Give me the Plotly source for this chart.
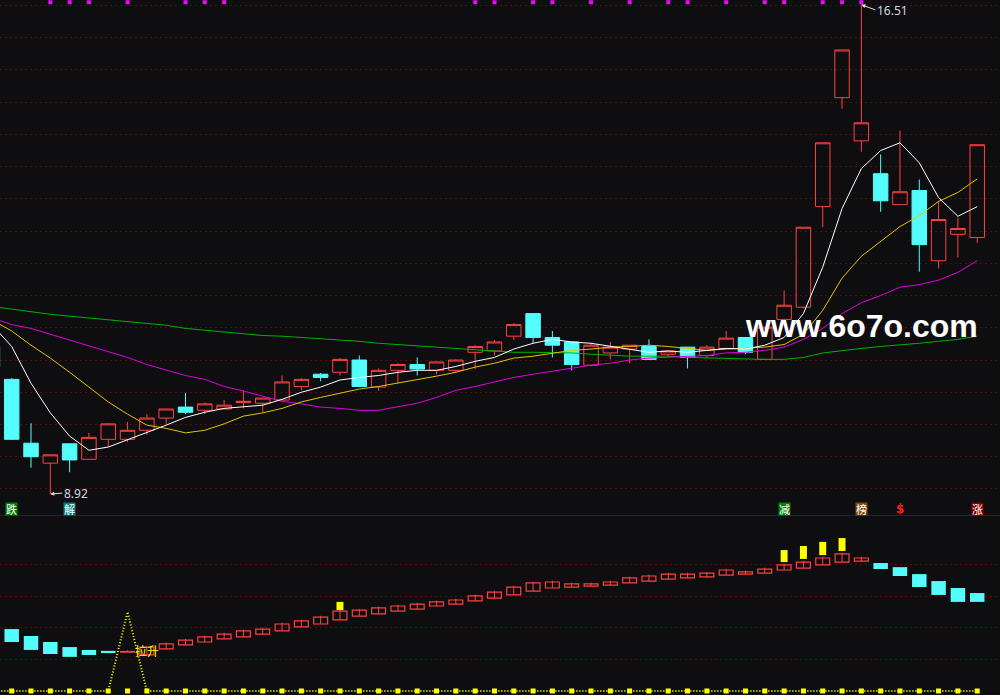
import plotly.graph_objects as go

# daily bars, index 0 is the bar cut off at the left edge
opens = [11.20, 10.70, 9.71, 9.40, 9.70, 9.46, 9.77, 9.77, 9.91, 10.10,
         10.27, 10.22, 10.24, 10.34, 10.33, 10.38, 10.59, 10.78, 10.81, 11.00,
         10.58, 10.84, 10.93, 10.84, 10.84, 11.12, 11.14, 11.37, 11.72, 11.35,
         11.28, 10.92, 11.11, 11.17, 11.21, 11.09, 11.20, 11.07, 11.18, 11.35,
         11.01, 11.63, 11.82, 13.38, 15.07, 14.40, 13.89, 13.41, 13.63, 12.54,
         12.95, 12.90]
highs = [11.25, 10.72, 10.02, 9.54, 9.70, 9.87, 10.02, 10.04, 10.16, 10.24,
         10.49, 10.34, 10.38, 10.53, 10.41, 10.76, 10.72, 10.80, 11.03, 11.07,
         10.87, 10.95, 11.04, 10.97, 11.01, 11.23, 11.31, 11.57, 11.72, 11.45,
         11.28, 11.26, 11.28, 11.23, 11.32, 11.15, 11.20, 11.23, 11.45, 11.35,
         11.51, 12.08, 13.06, 14.37, 15.81, 16.51, 14.19, 14.56, 13.80, 13.47,
         13.21, 14.34]
lows = [10.85, 9.76, 9.33, 8.92, 9.26, 9.46, 9.65, 9.73, 9.84, 10.01,
        10.16, 10.16, 10.24, 10.25, 10.19, 10.38, 10.53, 10.67, 10.76, 10.59,
        10.52, 10.64, 10.76, 10.78, 10.81, 10.86, 11.07, 11.31, 11.26, 11.04,
        10.84, 10.90, 11.01, 10.95, 11.00, 11.06, 10.87, 11.03, 11.17, 11.09,
        11.01, 11.59, 11.80, 13.06, 14.90, 14.23, 13.30, 13.41, 12.37, 12.42,
        12.59, 12.82]
closes = [10.89, 9.77, 9.50, 9.53, 9.45, 9.80, 10.01, 9.91, 10.10, 10.24,
          10.19, 10.32, 10.30, 10.36, 10.41, 10.66, 10.70, 10.73, 11.01, 10.59,
          10.84, 10.93, 10.86, 10.97, 11.00, 11.21, 11.28, 11.55, 11.35, 11.23,
          10.93, 11.23, 11.20, 11.23, 11.01, 11.14, 11.04, 11.20, 11.34, 11.12,
          11.51, 11.85, 13.06, 14.37, 15.81, 14.68, 13.47, 13.61, 12.79, 13.18,
          13.04, 14.34]

ma5 = [11.54, 11.21, 10.64, 10.18, 9.82, 9.60, 9.65, 9.76, 9.88, 9.99,
       10.11, 10.19, 10.25, 10.28, 10.30, 10.39, 10.50, 10.58, 10.69, 10.73,
       10.76, 10.81, 10.84, 10.84, 10.90, 10.98, 11.04, 11.17, 11.26, 11.32,
       11.28, 11.26, 11.21, 11.17, 11.12, 11.14, 11.12, 11.15, 11.18, 11.17,
       11.23, 11.35, 11.72, 12.44, 13.35, 13.97, 14.25, 14.37, 14.06, 13.52,
       13.23, 13.38]
ma10 = [11.62, 11.45, 11.23, 11.03, 10.81, 10.58, 10.35, 10.16, 9.99, 9.94,
        9.87, 9.91, 10.01, 10.13, 10.18, 10.25, 10.35, 10.42, 10.49, 10.55,
        10.59, 10.64, 10.70, 10.75, 10.81, 10.89, 10.95, 11.03, 11.06, 11.11,
        11.15, 11.17, 11.20, 11.21, 11.23, 11.21, 11.18, 11.15, 11.17, 11.18,
        11.20, 11.24, 11.40, 11.77, 12.27, 12.61, 12.84, 13.07, 13.24, 13.46,
        13.60, 13.81]
ma20 = [11.65, 11.55, 11.49, 11.40, 11.32, 11.23, 11.14, 11.04, 10.93, 10.84,
        10.76, 10.70, 10.59, 10.52, 10.44, 10.36, 10.32, 10.27, 10.25, 10.22,
        10.22, 10.27, 10.33, 10.42, 10.53, 10.59, 10.66, 10.73, 10.78, 10.83,
        10.87, 10.92, 10.95, 11.00, 11.03, 11.04, 11.06, 11.07, 11.11, 11.12,
        11.15, 11.20, 11.32, 11.49, 11.72, 11.89, 12.00, 12.13, 12.17, 12.24,
        12.36, 12.54]
ma60 = [11.83, 11.79, 11.74, 11.71, 11.68, 11.65, 11.63, 11.60, 11.57, 11.54,
        11.49, 11.46, 11.43, 11.40, 11.38, 11.37, 11.35, 11.34, 11.31, 11.29,
        11.26, 11.24, 11.21, 11.20, 11.18, 11.15, 11.14, 11.12, 11.12, 11.12,
        11.11, 11.09, 11.07, 11.06, 11.06, 11.06, 11.04, 11.03, 11.03, 11.01,
        11.01, 11.01, 11.04, 11.11, 11.15, 11.18, 11.21, 11.23, 11.26, 11.29,
        11.32, 11.37]

# magenta flags along the top
flag_idx = [3, 4, 5, 7, 10, 11, 12, 25, 26, 28, 29, 31, 33, 35, 36, 38,
            40, 41, 43, 44, 45]
flag_level = 16.55

# signal words under the candles
sig_idx = [1, 4, 41, 45, 47, 51]
sig_text = ["跌", "解", "减", "榜", "$", "涨"]
sig_bg = ["#008000", "#008080", "#008000", "#8b4513", None, "#800000"]

# lower indicator
sub_open = [21.8, 19.6, 17.4, 15.5, 13.9, 13.0, 12.7, 12.3, 11.4, 13.3,
            14.6, 15.5, 16.5, 17.1, 18.0, 19.0, 20.3, 21.2, 22.5, 23.7,
            24.4, 25.3, 25.9, 26.9, 27.5, 28.5, 29.4, 30.4, 31.6, 32.6,
            32.9, 33.2, 33.5, 34.2, 34.8, 35.4, 35.8, 36.1, 36.7, 37.0,
            37.3, 38.3, 38.9, 39.9, 40.8, 41.1, 40.5, 39.2, 37.0, 34.8,
            32.6, 31.0]
sub_close = [18.4, 15.5, 13.0, 11.7, 10.8, 11.4, 12.0, 12.5, 13.9, 14.9,
             16.1, 17.1, 18.0, 19.0, 19.6, 21.2, 22.2, 23.4, 25.3, 25.6,
             26.3, 26.9, 27.5, 28.2, 28.8, 30.1, 31.3, 32.9, 34.2, 34.5,
             33.9, 33.9, 34.5, 35.8, 36.4, 37.0, 37.0, 37.3, 38.3, 37.7,
             38.6, 39.9, 40.8, 42.1, 43.4, 42.1, 38.6, 36.4, 32.9, 30.4,
             28.2, 28.2]
warn_idx = [18, 41, 42, 43, 44]
warn_lo = [25.6, 40.8, 41.8, 43.0, 44.3]
warn_hi = [28.2, 44.6, 45.9, 47.2, 48.4]
pulse = [0, 0, 0, 0, 0, 0, 0, 25.0, 0, 0,
         0, 0, 0, 0, 0, 0, 0, 0, 0, 0,
         0, 0, 0, 0, 0, 0, 0, 0, 0, 0,
         0, 0, 0, 0, 0, 0, 0, 0, 0, 0,
         0, 0, 0, 0, 0, 0, 0, 0, 0, 0,
         0, 0]

RED = "#ff4040"
CYAN = "#54fcfc"
BG = "#0e0e11"
GRID = "#5a0b0b"

idx = list(range(len(closes)))

fig = go.Figure()

fig.add_trace(go.Candlestick(
    x=idx, open=opens, high=highs, low=lows, close=closes,
    increasing=dict(line=dict(color=RED, width=1), fillcolor="rgba(0,0,0,0)"),
    decreasing=dict(line=dict(color=CYAN, width=1), fillcolor=CYAN),
    hoverinfo="skip", xaxis="x", yaxis="y"
))

for vals, col in [(ma60, "#00b000"), (ma20, "#e000e0"), (ma10, "#e6c200"), (ma5, "#ffffff")]:
    fig.add_trace(go.Scatter(x=idx, y=vals, mode="lines",
                             line=dict(color=col, width=1),
                             hoverinfo="skip", xaxis="x", yaxis="y"))

fig.add_trace(go.Scatter(
    x=flag_idx, y=[flag_level] * len(flag_idx), mode="markers",
    marker=dict(symbol="square", size=4, color="#ff00ff"),
    hoverinfo="skip", xaxis="x", yaxis="y"
))

# lower panel boxes
up = [i for i in idx if sub_close[i] >= sub_open[i]]
dn = [i for i in idx if sub_close[i] < sub_open[i]]

fig.add_trace(go.Bar(
    x=dn,
    y=[sub_open[i] - sub_close[i] for i in dn],
    base=[sub_close[i] for i in dn],
    width=0.75, marker=dict(color=CYAN, line=dict(width=0)),
    hoverinfo="skip", xaxis="x2", yaxis="y2"
))
fig.add_trace(go.Bar(
    x=up,
    y=[sub_close[i] - sub_open[i] for i in up],
    base=[sub_open[i] for i in up],
    width=0.72, marker=dict(color="rgba(0,0,0,0)", line=dict(color=RED, width=1.2)),
    hoverinfo="skip", xaxis="x2", yaxis="y2"
))
mx, my = [], []
for i in up:
    mx += [i, i, None]
    my += [sub_open[i], sub_close[i] + 0.4, None]
fig.add_trace(go.Scatter(x=mx, y=my, mode="lines", line=dict(color=RED, width=1),
                         hoverinfo="skip", xaxis="x2", yaxis="y2"))

fig.add_trace(go.Bar(
    x=warn_idx,
    y=[h - l for h, l in zip(warn_hi, warn_lo)],
    base=warn_lo,
    width=0.36, marker=dict(color="#ffff00", line=dict(width=0)),
    hoverinfo="skip", xaxis="x2", yaxis="y2"
))

fig.add_trace(go.Scatter(
    x=idx, y=pulse, mode="lines",
    line=dict(color="#ffff00", width=2, dash="1px,2px"),
    hoverinfo="skip", xaxis="x2", yaxis="y2"
))
fig.add_trace(go.Scatter(
    x=idx, y=[0] * len(idx), mode="markers",
    marker=dict(symbol="square", size=5, color="#ffff00"),
    hoverinfo="skip", xaxis="x2", yaxis="y2"
))

annotations = []
for i, t, bg in zip(sig_idx, sig_text, sig_bg):
    if bg:
        annotations.append(dict(x=i, y=8.69, xref="x", yref="y", text=t, showarrow=False,
                                font=dict(family="Noto Sans CJK SC", size=11, color="#ffffff"),
                                bgcolor=bg, borderpad=0, height=12))
    else:
        annotations.append(dict(x=i, y=8.69, xref="x", yref="y", text="<b>" + t + "</b>",
                                showarrow=False, height=12,
                                font=dict(family="DejaVu Sans", size=12, color="#ff2020")))

hi_i = highs.index(max(highs))
lo_i = lows.index(min(lows))
annotations.append(dict(x=hi_i, y=highs[hi_i], xref="x", yref="y", text=f"{highs[hi_i]:.2f}",
                        showarrow=True, arrowhead=2, arrowsize=0.8, arrowwidth=1,
                        arrowcolor="#e0e0e0", ax=14, ay=5, xanchor="left", height=12,
                        font=dict(family="Noto Sans", size=12, color="#d0d8e0")))
annotations.append(dict(x=lo_i, y=lows[lo_i], xref="x", yref="y", text=f"{lows[lo_i]:.2f}",
                        showarrow=True, arrowhead=2, arrowsize=0.8, arrowwidth=1,
                        arrowcolor="#e0e0e0", ax=12, ay=-1, xanchor="left", height=12,
                        font=dict(family="Noto Sans", size=12, color="#d0d8e0")))
annotations.append(dict(x=8, y=12.7, xref="x2", yref="y2", text="拉升", showarrow=False,
                        font=dict(family="Noto Sans CJK SC", size=12, color="#ffff00")))
annotations.append(dict(x=45.0, y=11.53, xref="x", yref="y", text="<b>www.6o7o.com</b>",
                        showarrow=False,
                        font=dict(family="Liberation Sans", size=32, color="#ffffff")))

xr = [0.394, 52.18]
fig.update_layout(
    width=1000, height=695,
    margin=dict(l=0, r=0, t=0, b=0),
    paper_bgcolor=BG, plot_bgcolor=BG,
    showlegend=False,
    barmode="overlay",
    boxgap=0.25, boxgroupgap=0,
    annotations=annotations,
    xaxis=dict(range=xr, domain=[0, 1], anchor="y", showgrid=False, zeroline=False,
               showticklabels=False, rangeslider=dict(visible=False)),
    yaxis=dict(range=[8.581, 16.585], domain=[0.2576, 1], anchor="x",
               tick0=9, dtick=0.5, showgrid=True, gridcolor=GRID, griddash="2px,3px",
               zeroline=False, showticklabels=False),
    xaxis2=dict(range=xr, domain=[0, 1], anchor="y2", matches="x", showgrid=False,
                zeroline=False, showticklabels=False, showline=True, mirror=True,
                linecolor="#7a0000", linewidth=1),
    yaxis2=dict(range=[-1.27, 55.4], domain=[0, 0.2576], anchor="x2",
                tickvals=[10, 20, 30, 40], showgrid=True, gridcolor=GRID,
                griddash="2px,3px", zeroline=False, showticklabels=False),
)

fig.write_html("out.html", config={"displayModeBar": False},
               post_script="document.body.style.margin='0px';")
